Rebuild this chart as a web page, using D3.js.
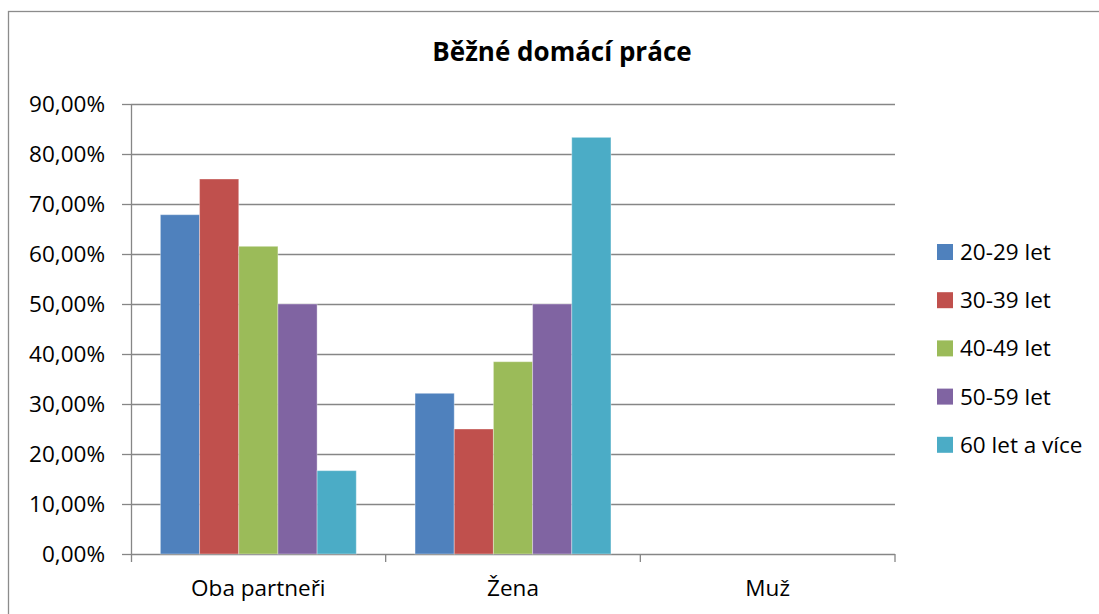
<!DOCTYPE html>
<html>
<head>
<meta charset="utf-8">
<script src="https://cdn.jsdelivr.net/npm/d3@7"></script>
<style>
  body { margin: 0; background: #fff; }
  svg text { font-family: "Open Sans", "DejaVu Sans", sans-serif; fill: #000; }
</style>
</head>
<body>
<script>
// data
const categories = ["Oba partneři", "Žena", "Muž"];
const series = ["20-29 let", "30-39 let", "40-49 let", "50-59 let", "60 let a více"];
const values2029 = [0.6786, 0.3214, 0];
const values3039 = [0.75, 0.25, 0];
const values4049 = [0.6154, 0.3846, 0];
const values5059 = [0.50, 0.50, 0];
const values60 = [0.1667, 0.8333, 0];
const yTicks = [0, 0.1, 0.2, 0.3, 0.4, 0.5, 0.6, 0.7, 0.8, 0.9];
const colors = ["#4F81BD", "#C0504D", "#9BBB59", "#8064A2", "#4BACC6"];

const allValues = [values2029, values3039, values4049, values5059, values60];

const width = 1099, height = 614;
const margin = { top: 104, right: 204, bottom: 60, left: 131 };
const fontSize = "22.5px";

const svg = d3.select("body").append("svg")
  .attr("width", width)
  .attr("height", height);

// chart frame (runs off the right and bottom edge)
svg.append("rect")
  .attr("x", 8.5).attr("y", 11.5)
  .attr("width", 1200).attr("height", 700)
  .attr("fill", "#fff")
  .attr("stroke", "#8c8c8c")
  .attr("stroke-width", 1.3);

// title
svg.append("text")
  .attr("x", 562).attr("y", 61)
  .attr("text-anchor", "middle")
  .style("font-size", "26px")
  .style("font-weight", "bold")
  .text("Běžné domácí práce");

const x0 = d3.scaleBand()
  .domain(categories)
  .range([margin.left, width - margin.right]);

const x1 = d3.scaleBand()
  .domain(series)
  .range([0, x0.bandwidth()])
  .paddingInner(0)
  .paddingOuter(0.75);

const y = d3.scaleLinear()
  .domain([0, 0.9])
  .range([height - margin.bottom, margin.top]);

const fmt = v => (v * 100).toFixed(2).replace(".", ",") + "%";

// y axis ticks + labels
const yAxis = svg.append("g")
  .attr("transform", `translate(${margin.left},0)`)
  .call(d3.axisLeft(y).tickValues(yTicks).tickFormat(fmt).tickSize(9).tickPadding(17));
yAxis.select(".domain").remove();
yAxis.selectAll(".tick line").attr("stroke", "#868686").attr("stroke-width", 1.3);
yAxis.selectAll(".tick text")
  .style("font-size", fontSize)
  .style("font-family", "Open Sans")
  .attr("fill", "#000");

// horizontal grid
svg.append("g")
  .selectAll("line")
  .data(yTicks)
  .join("line")
  .attr("x1", margin.left)
  .attr("x2", width - margin.right)
  .attr("y1", d => Math.round(y(d)) + 0.5)
  .attr("y2", d => Math.round(y(d)) + 0.5)
  .attr("stroke", "#868686")
  .attr("stroke-width", 1.3);

// bars
const groups = svg.append("g")
  .selectAll("g")
  .data(categories)
  .join("g")
  .attr("transform", d => `translate(${x0(d)},0)`);

groups.selectAll("rect")
  .data((c, ci) => series.map((s, si) => ({ s, si, v: allValues[si][ci] })))
  .join("rect")
  .attr("x", d => x1(d.s))
  .attr("width", x1.bandwidth())
  .attr("y", d => y(d.v))
  .attr("height", d => y(0) - y(d.v))
  .attr("fill", (d) => colors[d.si])
  .attr("stroke", "#ffffff")
  .attr("stroke-opacity", 0.35)
  .attr("stroke-width", 1);

// vertical axis line
svg.append("line")
  .attr("x1", margin.left + 0.5).attr("x2", margin.left + 0.5)
  .attr("y1", margin.top).attr("y2", y(0) + 8)
  .attr("stroke", "#868686").attr("stroke-width", 1.3);

// category ticks and labels
const xAxis = svg.append("g")
  .attr("transform", `translate(0,${y(0)})`);
const bounds = categories.map(c => x0(c) + x0.bandwidth());
xAxis.selectAll("line")
  .data(bounds)
  .join("line")
  .attr("x1", d => d).attr("x2", d => d)
  .attr("y1", 0).attr("y2", 8)
  .attr("stroke", "#868686").attr("stroke-width", 1.3);
xAxis.selectAll("text")
  .data(categories)
  .join("text")
  .attr("x", d => x0(d) + x0.bandwidth() / 2)
  .attr("y", 42)
  .attr("text-anchor", "middle")
  .style("font-size", fontSize)
  .text(d => d);

// legend
const legend = svg.append("g")
  .selectAll("g")
  .data(series)
  .join("g")
  .attr("transform", (d, i) => `translate(937,${252 + i * 48.2})`);
legend.append("rect")
  .attr("x", 0).attr("y", -8)
  .attr("width", 16).attr("height", 16)
  .attr("fill", (d, i) => colors[i]);
legend.append("text")
  .attr("x", 23).attr("y", 8)
  .style("font-size", fontSize)
  .text(d => d);
</script>
</body>
</html>
